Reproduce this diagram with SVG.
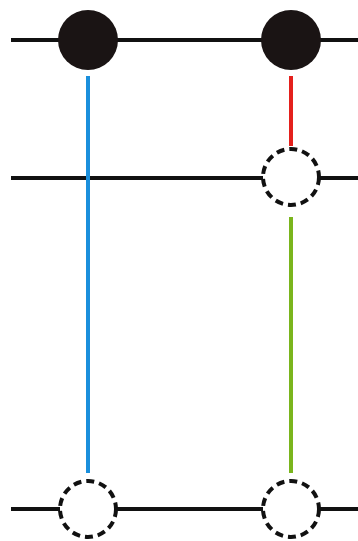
<svg xmlns="http://www.w3.org/2000/svg" width="358" height="541" viewBox="0 0 358 541">
<style>
.ln{stroke:#111;stroke-width:4;fill:none}
.full{fill:#1a1414}
.dash{fill:#fff;stroke:#111;stroke-width:4;stroke-dasharray:8 5}
.c{stroke-width:4;fill:none}
</style>
<rect width="358" height="541" fill="#fff"/>
<g id="connectors">
<line class="ln" x1="11" y1="40" x2="358" y2="40"/>
<line class="ln" x1="11" y1="178" x2="263" y2="178"/>
<line class="ln" x1="320" y1="178" x2="358" y2="178"/>
<line class="ln" x1="11" y1="509" x2="60" y2="509"/>
<line class="ln" x1="117" y1="509" x2="263" y2="509"/>
<line class="ln" x1="320" y1="509" x2="358" y2="509"/>
<line class="c" stroke="#1a8fdc" x1="88" y1="76" x2="88" y2="473"/>
<line class="c" stroke="#e4201c" x1="291" y1="76" x2="291" y2="146"/>
<line class="c" stroke="#7ab51d" x1="291" y1="217" x2="291" y2="473"/>
</g>
<g id="n1"><circle class="full" cx="88" cy="40" r="30"/></g>
<g id="n2"><circle class="full" cx="291" cy="40" r="30"/></g>
<g id="n3"><circle class="dash" cx="291" cy="177" r="28"/></g>
<g id="n4"><circle class="dash" cx="88" cy="509" r="28"/></g>
<g id="n5"><circle class="dash" cx="291" cy="509" r="28"/></g>
</svg>
